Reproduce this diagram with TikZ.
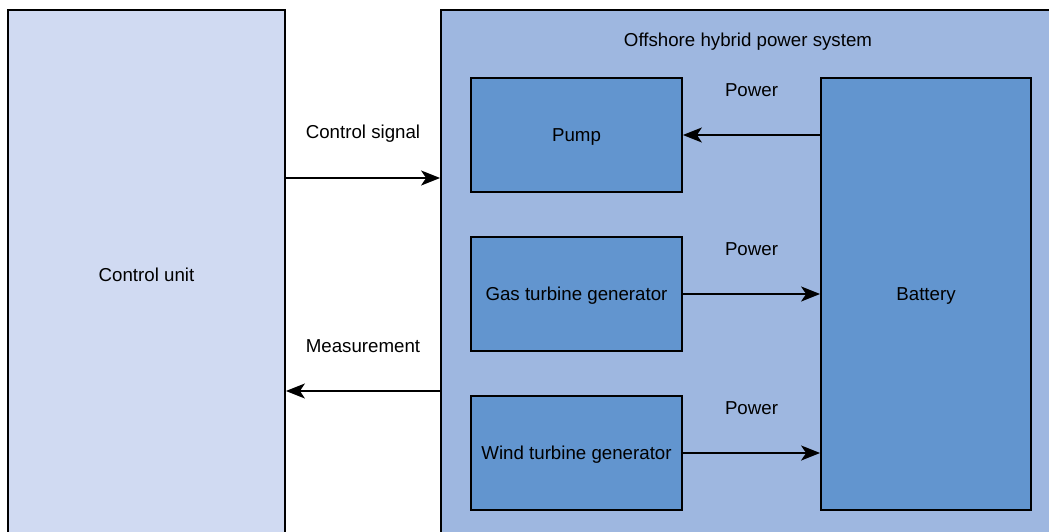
\documentclass[tikz,border=0pt]{standalone}
\usepackage{fontspec}
\setmainfont{Liberation Sans}
\usetikzlibrary{arrows.meta}

\definecolor{ctrlfill}{HTML}{D0DAF2}
\definecolor{sysfill}{HTML}{9EB7E0}
\definecolor{unitfill}{HTML}{6295CF}

\begin{document}
\begin{tikzpicture}[
	x=1pt, y=-1pt,
	font=\fontsize{18.7}{22}\selectfont,
	>={Stealth[length=19pt,width=15pt,inset=5pt]},
	block/.style={
		rectangle, draw=black, line width=1.8pt,
		align=center, inner sep=0pt,
		text height=13.4pt, text depth=0pt
	},
	unit/.style={
		block, fill=unitfill,
		minimum width=211pt, minimum height=114pt
	},
	arr/.style={->, line width=1.8pt, black},
	lbl/.style={black, inner sep=0pt, text height=13.4pt, text depth=0pt}
]
\path[use as bounding box, clip] (0,0) rectangle (1049,532);

% Left: controller
\node[block, fill=ctrlfill, minimum width=277pt, minimum height=530pt] (ctrl) at (146.5, 275) {Control unit};

% Right: plant
\node[block, fill=sysfill, minimum width=614pt, minimum height=535pt] (sys) at (748, 277.5) {};
\node[lbl] (title) at (748, 40) {Offshore hybrid power system};

\node[unit] (pump) at (576.5, 135) {Pump};
\node[unit] (gas)  at (576.5, 294) {Gas turbine generator};
\node[unit] (wind) at (576.5, 453) {Wind turbine generator};
\node[block, fill=unitfill, minimum width=210pt, minimum height=432pt] (batt) at (926, 294) {Battery};

% Signals between controller and plant
\draw[arr] (ctrl.east |- 0,178) -- (sys.west |- 0,178)
	node[lbl, midway, yshift=46pt] {Control signal};
\draw[arr] (sys.west |- 0,391) -- (ctrl.east |- 0,391)
	node[lbl, midway, yshift=45pt] {Measurement};

% Power flows
\draw[arr] (batt.west |- pump) -- (pump.east)
	node[lbl, midway, yshift=45pt] {Power};
\draw[arr] (gas.east) -- (gas -| batt.west)
	node[lbl, midway, yshift=45pt] {Power};
\draw[arr] (wind.east) -- (wind -| batt.west)
	node[lbl, midway, yshift=45pt] {Power};

\end{tikzpicture}
\end{document}
